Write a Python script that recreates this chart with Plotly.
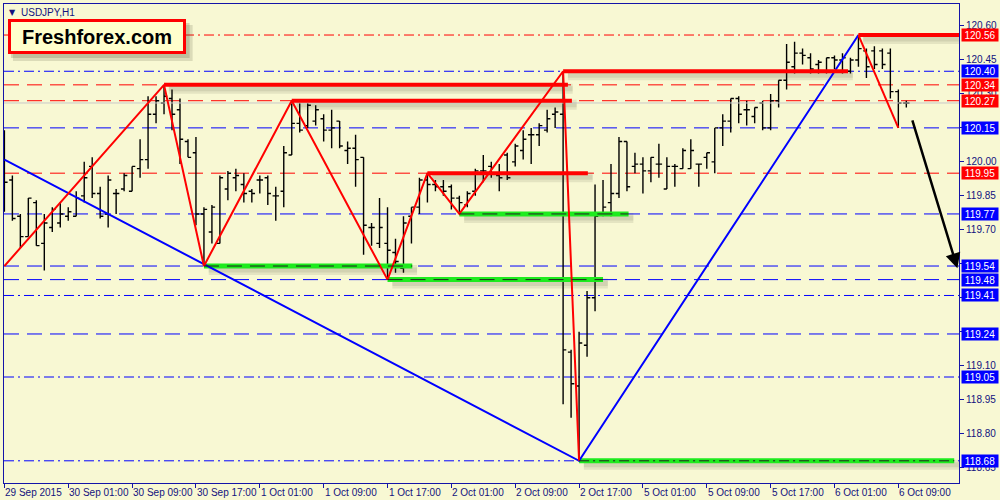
import plotly.graph_objects as go

# ---------------- data ----------------
bar_index = list(range(114))
opens = [119.83,119.92,119.76,119.67,119.82,119.64,119.71,119.73,119.76,119.76,
         119.85,119.98,119.86,119.77,119.86,119.88,119.87,119.97,120.01,120.21,
         120.26,120.28,120.23,120.09,120.04,119.77,119.69,119.64,119.88,119.93,
         119.90,119.87,119.92,119.93,119.85,119.87,120.03,120.17,120.16,120.18,
         120.19,120.14,120.18,120.05,120.06,120.02,119.71,119.64,119.64,119.60,
         119.53,119.76,119.80,119.92,119.90,119.89,119.89,119.84,119.81,119.87,
         119.96,119.98,119.94,120.03,120.00,120.05,120.12,120.12,120.14,120.21,
         120.21,119.16,119.01,119.19,119.40,119.77,119.82,119.86,120.09,119.98,
         119.99,119.96,119.99,119.88,119.98,119.97,119.97,119.99,120.02,120.00,
         120.15,120.18,120.28,120.23,120.20,120.26,120.15,120.27,120.36,120.42,
         120.48,120.46,120.43,120.40,120.46,120.45,120.40,120.45,120.49,120.49,
         120.49,120.48,120.31,120.26]
highs = [120.14,119.94,119.77,119.84,119.83,119.77,119.80,119.82,119.80,119.87,
         120.00,120.02,119.89,119.94,119.88,119.95,119.98,120.10,120.29,120.29,
         120.34,120.32,120.28,120.10,120.11,119.80,119.81,119.94,119.96,119.97,
         119.95,119.88,119.94,119.94,119.89,120.07,120.27,120.26,120.26,120.25,
         120.21,120.23,120.18,120.09,120.12,120.02,119.73,119.84,119.80,119.66,
         119.76,119.80,119.93,119.95,119.92,119.92,119.90,119.85,119.87,119.97,
         120.03,120.00,119.99,120.04,120.08,120.14,120.15,120.17,120.23,120.24,
         120.40,119.17,119.25,119.43,119.90,119.92,119.99,120.11,120.09,120.04,
         120.02,120.02,120.08,120.02,119.99,120.06,120.10,119.99,120.04,120.15,
         120.21,120.28,120.29,120.27,120.24,120.27,120.30,120.36,120.52,120.53,
         120.50,120.48,120.45,120.46,120.47,120.48,120.46,120.56,120.50,120.51,
         120.50,120.50,120.32,120.27]
lows = [119.78,119.74,119.62,119.67,119.63,119.52,119.69,119.71,119.74,119.76,
        119.82,119.84,119.75,119.71,119.77,119.87,119.87,119.93,119.97,120.17,
        120.21,120.14,119.99,120.02,119.72,119.54,119.64,119.64,119.83,119.87,
        119.82,119.82,119.86,119.81,119.74,119.80,120.03,120.13,120.15,120.16,
        120.09,120.06,120.06,119.99,119.89,119.59,119.63,119.62,119.48,119.51,
        119.51,119.64,119.77,119.82,119.87,119.85,119.79,119.77,119.80,119.85,
        119.91,119.93,119.87,119.92,119.98,120.01,119.99,120.07,120.13,120.15,
        118.93,118.87,118.68,119.14,119.34,119.76,119.76,119.84,119.87,119.95,
        119.86,119.91,119.93,119.88,119.89,119.97,119.97,119.89,119.97,119.95,
        120.07,120.13,120.17,120.16,120.17,120.14,120.14,120.24,120.32,120.39,
        120.43,120.39,120.39,120.39,120.41,120.39,120.39,120.42,120.37,120.41,
        120.41,120.28,120.15,120.24]
closes = [119.91,119.75,119.67,119.84,119.63,119.73,119.79,119.77,119.78,119.84,
          119.93,119.86,119.76,119.92,119.86,119.94,119.98,120.01,120.21,120.27,
          120.29,120.21,120.10,120.02,119.77,119.79,119.80,119.93,119.95,119.94,
          119.86,119.86,119.92,119.86,119.85,120.04,120.17,120.14,120.25,120.23,
          120.14,120.15,120.07,120.06,120.01,119.72,119.71,119.71,119.61,119.56,
          119.73,119.80,119.92,119.90,119.89,119.87,119.84,119.82,119.86,119.96,
          119.96,119.95,119.93,119.93,120.07,120.10,120.12,120.16,120.19,120.22,
          119.17,119.02,119.20,119.40,119.76,119.80,119.86,120.09,119.89,119.99,
          119.96,120.02,119.99,119.98,119.98,120.05,120.05,119.99,120.04,120.15,
          120.18,120.28,120.21,120.23,120.24,120.15,120.27,120.36,120.44,120.48,
          120.47,120.41,120.44,120.46,120.45,120.46,120.45,120.50,120.42,120.43,
          120.43,120.31,120.26,120.26]

tick_bars = [0, 8, 16, 24, 32, 40, 48, 56, 64, 72, 80, 88, 96, 104, 112]
tick_labels = ["29 Sep 2015", "30 Sep 01:00", "30 Sep 09:00", "30 Sep 17:00",
               "1 Oct 01:00", "1 Oct 09:00", "1 Oct 17:00", "2 Oct 01:00",
               "2 Oct 09:00", "2 Oct 17:00", "5 Oct 01:00", "5 Oct 09:00",
               "5 Oct 17:00", "6 Oct 01:00", "6 Oct 09:00"]
price_ticks = [118.65, 118.80, 118.95, 119.10, 119.25, 119.40, 119.55,
               119.70, 119.85, 120.00, 120.15, 120.30, 120.45, 120.60]
# tick labels fully covered by the coloured price boxes in the reference
hidden_tick_labels = [119.25, 119.40, 119.55, 120.15]

red_zz_bars = [0, 20, 25, 36, 48, 53, 57, 70, 72]
red_zz_prices = [119.54, 120.34, 119.54, 120.27, 119.48, 119.95, 119.77, 120.40, 118.68]
red_tail_bars = [107, 112]
red_tail_prices = [120.56, 120.15]
blue_zz_bars = [0, 72, 107]
blue_zz_prices = [120.01, 118.68, 120.56]

red_seg_start = [20, 36, 53, 70, 107]
red_seg_end = [70.6, 71.1, 73.1, 105.7, 119.7]
red_seg_price = [120.34, 120.27, 119.95, 120.40, 120.56]
green_seg_start = [25, 48, 57, 72]
green_seg_end = [51.1, 75.0, 78.2, 119.0]
green_seg_price = [119.54, 119.48, 119.77, 118.68]

level_prices = [120.56, 120.40, 120.34, 120.27, 120.15, 119.95, 119.77,
                119.54, 119.48, 119.41, 119.24, 119.05, 118.68]
level_colors = ["red", "blue", "red", "red", "blue", "red", "blue",
                "blue", "blue", "blue", "blue", "blue", "blue"]
level_styles = ["dashdot", "dashdot", "dash", "dash", "dash", "dash", "dash",
                "dash", "dash", "dashdot", "dash", "dashdot", "dashdot"]

arrow_start = (113.7, 120.19)
arrow_end = (119.4, 119.53)

# ---------------- styling ----------------
BG = "#F8F8D3"
NAVY = "#12127E"
AXIS = "#1414A8"
RED = "#FF0000"
BLUE = "#0000FF"
GREEN = "#1EEB1E"
FONT = "Liberation Sans"

X_RANGE = [-0.05, 119.6]
Y_RANGE = [118.582, 120.697]
PLOT_H = 480
px_price = (Y_RANGE[1] - Y_RANGE[0]) / PLOT_H
shadow_off = 4 * px_price

DASH = {"dash": "15px,8px", "dashdot": "10px,4px,2px,4px"}
COLORS = {"red": RED, "blue": BLUE}

fig = go.Figure()

# soft shadows of thick lines
for s, e, p in zip(red_seg_start + green_seg_start, red_seg_end + green_seg_end,
                   red_seg_price + green_seg_price):
    fig.add_trace(go.Scatter(x=[s + 0.6, e + 0.6], y=[p - shadow_off, p - shadow_off],
                             mode="lines", line=dict(color="rgba(60,60,40,0.10)", width=10),
                             hoverinfo="skip", showlegend=False))
    fig.add_trace(go.Scatter(x=[s + 0.6, e + 0.6], y=[p - shadow_off, p - shadow_off],
                             mode="lines", line=dict(color="rgba(60,60,40,0.10)", width=5),
                             hoverinfo="skip", showlegend=False))

# bid line
fig.add_trace(go.Scatter(x=[X_RANGE[0], X_RANGE[1]], y=[closes[-1], closes[-1]], mode="lines",
                         line=dict(color="#C8C8C8", width=1), hoverinfo="skip", showlegend=False))

# OHLC bars
fig.add_trace(go.Ohlc(x=bar_index, open=opens, high=highs, low=lows, close=closes,
                      increasing=dict(line=dict(color="black", width=1.4)),
                      decreasing=dict(line=dict(color="black", width=1.4)),
                      tickwidth=0.4, hoverinfo="skip", showlegend=False))

# green thick lines
for s, e, p in zip(green_seg_start, green_seg_end, green_seg_price):
    fig.add_trace(go.Scatter(x=[s, e], y=[p, p], mode="lines",
                             line=dict(color=GREEN, width=5),
                             hoverinfo="skip", showlegend=False))

# zigzags
fig.add_trace(go.Scatter(x=blue_zz_bars, y=blue_zz_prices, mode="lines",
                         line=dict(color=BLUE, width=2), hoverinfo="skip", showlegend=False))
fig.add_trace(go.Scatter(x=red_zz_bars, y=red_zz_prices, mode="lines",
                         line=dict(color=RED, width=2), hoverinfo="skip", showlegend=False))
fig.add_trace(go.Scatter(x=red_tail_bars, y=red_tail_prices, mode="lines",
                         line=dict(color=RED, width=2), hoverinfo="skip", showlegend=False))

# red thick lines
for s, e, p in zip(red_seg_start, red_seg_end, red_seg_price):
    fig.add_trace(go.Scatter(x=[s, e], y=[p, p], mode="lines",
                             line=dict(color=RED, width=4),
                             hoverinfo="skip", showlegend=False))

# dark dashes over green lines
for s, e, p in zip(green_seg_start, green_seg_end, green_seg_price):
    idx = level_prices.index(p)
    fig.add_trace(go.Scatter(x=[s, e], y=[p, p], mode="lines",
                             line=dict(color="#202020", width=1, dash=DASH[level_styles[idx]]),
                             hoverinfo="skip", showlegend=False))

# horizontal level lines
shapes = []
for p, c, st in zip(level_prices, level_colors, level_styles):
    shapes.append(dict(type="line", xref="paper", x0=0, x1=1, yref="y", y0=p, y1=p,
                       line=dict(color=COLORS[c], width=1, dash=DASH[st]), layer="below"))

# logo shadow (pixel -> paper conversion)
def xp(px):
    return (px - 3) / 957.0

def yp(py):
    return (483 - py) / 480.0

shapes.append(dict(type="rect", xref="paper", yref="paper",
                   x0=xp(12), x1=xp(192), y0=yp(60), y1=yp(24),
                   fillcolor="rgba(90,90,60,0.18)", line=dict(width=0), layer="above"))
shapes.append(dict(type="rect", xref="paper", yref="paper",
                   x0=xp(10), x1=xp(189), y0=yp(57), y1=yp(22),
                   fillcolor="rgba(90,90,60,0.22)", line=dict(width=0), layer="above"))

annotations = []
# x-axis labels (left aligned at tick, MT4 style)
for b, t in zip(tick_bars, tick_labels):
    annotations.append(dict(x=b, xref="x", y=0, yref="paper", yanchor="top", xanchor="left",
                            yshift=-2, xshift=-1, text=t, showarrow=False,
                            font=dict(family=FONT, size=10, color=NAVY)))

# price boxes on the right axis
for p, c in zip(level_prices, level_colors):
    annotations.append(dict(x=1, xref="paper", y=p, yref="y", xanchor="left", yanchor="middle",
                            xshift=2, text=f"{p:.2f}", showarrow=False,
                            bgcolor=COLORS[c], width=34, height=10, borderpad=1,
                            font=dict(family=FONT, size=10, color="white")))

# logo
annotations.append(dict(x=xp(7), y=yp(18), xref="paper", yref="paper", xanchor="left", yanchor="top",
                        text="<b>Freshforex.com</b>", showarrow=False, bgcolor="#FFFFCC",
                        bordercolor=RED, borderwidth=3, borderpad=2, width=168, height=25,
                        align="center", font=dict(family=FONT, size=20, color="black")))
# title
annotations.append(dict(x=xp(18), y=yp(4), xref="paper", yref="paper", xanchor="left", yanchor="top",
                        text="USDJPY,H1", showarrow=False,
                        font=dict(family=FONT, size=10, color=NAVY)))
annotations.append(dict(x=xp(6), y=yp(5), xref="paper", yref="paper", xanchor="left", yanchor="top",
                        text="▼", showarrow=False,
                        font=dict(family="DejaVu Sans", size=8, color=NAVY)))
# arrow
annotations.append(dict(x=arrow_end[0], y=arrow_end[1], ax=arrow_start[0], ay=arrow_start[1],
                        xref="x", yref="y", axref="x", ayref="y", text="", showarrow=True,
                        arrowhead=2, arrowsize=1.2, arrowwidth=2.5, arrowcolor="black"))

fig.update_layout(
    width=1000, height=500,
    margin=dict(l=3, r=40, t=3, b=17),
    paper_bgcolor=BG, plot_bgcolor=BG,
    showlegend=False,
    shapes=shapes, annotations=annotations,
    xaxis=dict(range=X_RANGE, showgrid=False, zeroline=False, rangeslider=dict(visible=False),
               tickmode="array", tickvals=tick_bars, ticktext=[""] * len(tick_bars),
               ticks="outside", ticklen=4, tickcolor=AXIS,
               showline=True, linecolor=AXIS, linewidth=1, mirror=True, fixedrange=True),
    yaxis=dict(range=Y_RANGE, side="right", showgrid=False, zeroline=False,
               tickmode="array", tickvals=price_ticks,
               ticktext=["" if v in hidden_tick_labels else f"{v:.2f}" for v in price_ticks],
               ticks="outside", ticklen=4, tickcolor=AXIS,
               tickfont=dict(family=FONT, size=10, color=NAVY),
               showline=True, linecolor=AXIS, linewidth=1, mirror=True, fixedrange=True),
)

fig.write_html("out.html", config={"displayModeBar": False},
               post_script="document.body.style.margin='0px';")
